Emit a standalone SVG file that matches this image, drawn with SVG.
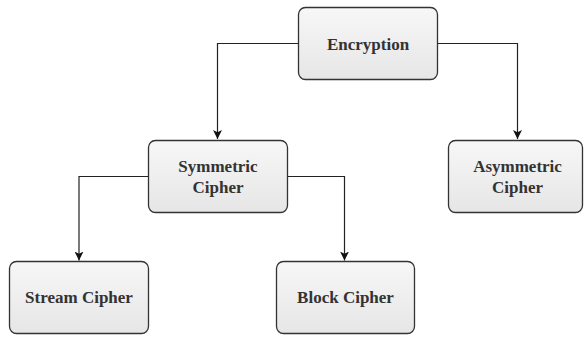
<svg xmlns="http://www.w3.org/2000/svg" width="584" height="338" viewBox="0 0 584 338">
<style>
.box{fill:url(#g);stroke:#333;stroke-width:1.3}
.lbl{font-family:'Liberation Serif','DejaVu Serif',serif;font-weight:bold;font-size:17px;fill:#333;text-anchor:middle}
.edge{fill:none;stroke:#222;stroke-width:1.2}
</style>
<defs>
<linearGradient id="g" x1="0" y1="0" x2="0" y2="1">
<stop offset="0" stop-color="#f7f7f7"/>
<stop offset="1" stop-color="#e6e6e6"/>
</linearGradient>
<marker id="arr" viewBox="0 0 10 10" refX="10" refY="5" markerWidth="9" markerHeight="9" markerUnits="userSpaceOnUse" orient="auto">
<path d="M0,0 L10,5 L0,10 L2.5,5 Z" fill="#111"/>
</marker>
</defs>
<rect width="584" height="338" fill="#fff"/>
<g id="connectors">
<path class="edge" d="M298.5,43.5 H217.5 V139" marker-end="url(#arr)"/>
<path class="edge" d="M437.5,43.5 H517.5 V139" marker-end="url(#arr)"/>
<path class="edge" d="M148.5,176.5 H79 V260.5" marker-end="url(#arr)"/>
<path class="edge" d="M287.5,176.5 H344.5 V260.5" marker-end="url(#arr)"/>
</g>
<g id="encryption">
<rect class="box" x="298.5" y="7.5" width="139" height="72" rx="7"/>
<text class="lbl" x="368" y="49.5">Encryption</text>
</g>
<g id="symmetric">
<rect class="box" x="148.5" y="140.5" width="139" height="72" rx="7"/>
<text class="lbl" x="218" y="172">Symmetric</text>
<text class="lbl" x="218" y="193">Cipher</text>
</g>
<g id="asymmetric">
<rect class="box" x="448.5" y="140.5" width="134" height="72" rx="7"/>
<text class="lbl" x="517.5" y="172">Asymmetric</text>
<text class="lbl" x="517.5" y="193">Cipher</text>
</g>
<g id="stream">
<rect class="box" x="9.5" y="261.5" width="139" height="72" rx="7"/>
<text class="lbl" x="79" y="303">Stream Cipher</text>
</g>
<g id="block">
<rect class="box" x="276.5" y="261.5" width="138" height="72" rx="7"/>
<text class="lbl" x="345.5" y="303">Block Cipher</text>
</g>
</svg>
